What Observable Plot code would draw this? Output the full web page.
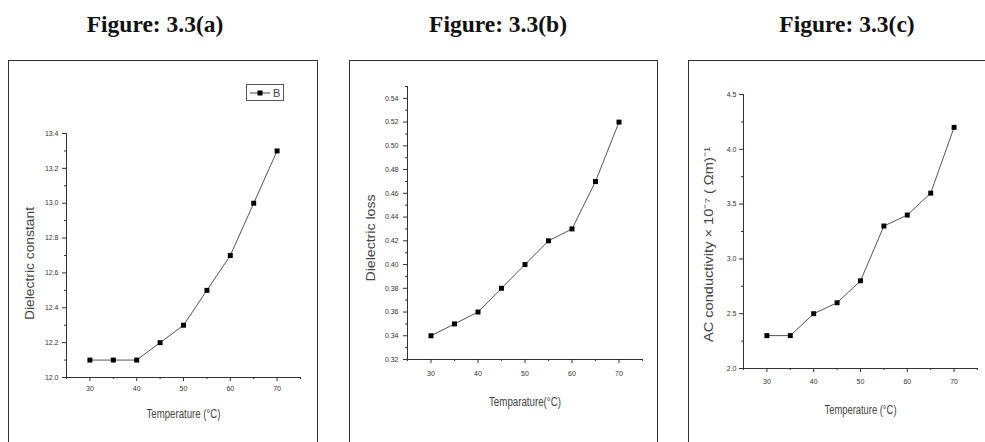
<!DOCTYPE html>
<html>
<head>
<meta charset="utf-8">
<script src="https://cdn.jsdelivr.net/npm/d3@7"></script>
<script src="https://cdn.jsdelivr.net/npm/@observablehq/plot@0.6"></script>
<style>
  html, body { margin: 0; padding: 0; background: #fff; overflow: hidden; }
  #root { position: relative; width: 985px; height: 442px; }
  .title { position: absolute; top: 12px; width: 240px; text-align: center;
           font-family: "Liberation Serif", "Times New Roman", serif; font-weight: bold;
           font-size: 23.5px; line-height: 24px; color: #111; }
  .box { position: absolute; top: 60px; height: 400px; border: 1px solid #333; box-sizing: border-box; }
  .panel { position: absolute; top: 60px; }
  .panel svg { overflow: visible; }
  .legend { position: absolute; left: 246px; top: 84px; width: 38px; height: 17px; box-sizing: border-box;
            border: 1px solid #555; background: #fff; font-family: "Liberation Sans", sans-serif;
            font-size: 11px; color: #444; display: flex; align-items: center; padding-left: 3px; }
</style>
</head>
<body>
<div id="root"></div>
<script>
// ---- data ----
const temperature = [30, 35, 40, 45, 50, 55, 60, 65, 70];
const dielectricConstant = [12.1, 12.1, 12.1, 12.2, 12.3, 12.5, 12.7, 13.0, 13.3];
const dielectricLoss = [0.34, 0.35, 0.36, 0.38, 0.40, 0.42, 0.43, 0.47, 0.52];
const acConductivity = [2.3, 2.3, 2.5, 2.6, 2.8, 3.3, 3.4, 3.6, 4.2];

const xDomain = [25, 75];
const xTicks = [30, 40, 50, 60, 70];
const xMinorTicks = [25, 35, 45, 55, 65, 75];

const yDomainA = [12.0, 13.4];
const yTicksA = [12.0, 12.2, 12.4, 12.6, 12.8, 13.0, 13.2, 13.4];
const yMinorA = [12.1, 12.3, 12.5, 12.7, 12.9, 13.1, 13.3];

const yDomainB = [0.32, 0.55];
const yTicksB = [0.32, 0.34, 0.36, 0.38, 0.40, 0.42, 0.44, 0.46, 0.48, 0.50, 0.52, 0.54];
const yMinorB = [0.33, 0.35, 0.37, 0.39, 0.41, 0.43, 0.45, 0.47, 0.49, 0.51, 0.53, 0.55];

const yDomainC = [2.0, 4.5];
const yTicksC = [2.0, 2.5, 3.0, 3.5, 4.0, 4.5];
const yMinorC = [2.25, 2.75, 3.25, 3.75, 4.25];

const titles = ["Figure: 3.3(a)", "Figure: 3.3(b)", "Figure: 3.3(c)"];
const yLabels = ["Dielectric constant", "Dielectric loss", "AC conductivity \u00d7 10\u207b\u2077 ( \u03a9m)\u207b\u00b9"];
const xLabels = ["Temperature (\u00b0C)", "Temparature(\u00b0C)", "Temperature (\u00b0C)"];
const legendLabel = "B";

// ---- layout ----
const root = document.getElementById("root");
const sans = "'Liberation Sans', Arial, sans-serif";

[[155, 0], [498, 1], [847, 2]].forEach(([cx, i]) => {
  const d = document.createElement("div");
  d.className = "title";
  d.style.left = (cx - 120) + "px";
  d.textContent = titles[i];
  root.appendChild(d);
});

[[8, 310], [349, 309], [688, 320]].forEach(([l, w]) => {
  const b = document.createElement("div");
  b.className = "box";
  b.style.left = l + "px";
  b.style.width = w + "px";
  root.appendChild(b);
});

function panel(cfg) {
  const data = temperature.map((t, i) => ({t, v: cfg.values[i]}));
  const chart = Plot.plot({
    width: cfg.width, height: cfg.height,
    marginLeft: cfg.ml, marginRight: cfg.mr, marginTop: cfg.mt, marginBottom: cfg.mb,
    x: {domain: xDomain, axis: null},
    y: {domain: cfg.yDomain, axis: null},
    style: {fontFamily: sans, fontSize: "7px", color: "#333", background: "transparent"},
    marks: [
      Plot.ruleX([xDomain[0]], {stroke: "#333", strokeWidth: 1}),
      Plot.ruleY([cfg.yDomain[0]], {stroke: "#333", strokeWidth: 1}),
      Plot.axisX(xTicks, {tickSize: 4, tickPadding: cfg.xpad, tickFormat: d => String(d), label: null, stroke: "#333", fill: "#333"}),
      Plot.axisX(xMinorTicks, {tickSize: 2, tickFormat: () => "", label: null, stroke: "#333"}),
      Plot.axisY(cfg.yTicks, {tickSize: 4, tickPadding: cfg.ypad, tickFormat: cfg.fmt, label: null, stroke: "#333", fill: "#333"}),
      Plot.axisY(cfg.yMinor, {tickSize: 2, tickFormat: () => "", label: null, stroke: "#333"}),
      Plot.line(data, {x: "t", y: "v", stroke: "#555", strokeWidth: 1}),
      Plot.dot(data, {x: "t", y: "v", symbol: "square", fill: "#000", stroke: "none", r: 2.8}),
      Plot.text([cfg.yLabel], {frameAnchor: "left", textAnchor: "middle", lineAnchor: "middle",
        rotate: -90, dx: cfg.ydx, dy: cfg.ydy,
        fontFamily: sans, fontSize: 13.5, fill: "#444", text: d => d}),
      Plot.text([cfg.xLabel], {frameAnchor: "bottom", textAnchor: "middle", lineAnchor: "middle", dy: cfg.xdy,
        fontFamily: sans, fontSize: 12, fill: "#444", text: d => d})
    ]
  });
  const fit = (label, len) => d3.select(chart).selectAll("text")
    .filter(function () { return this.textContent === label; })
    .attr("textLength", len).attr("lengthAdjust", "spacingAndGlyphs");
  fit(cfg.yLabel, cfg.yLen);
  fit(cfg.xLabel, cfg.xLen);
  const wrap = document.createElement("div");
  wrap.className = "panel";
  wrap.style.left = cfg.left + "px";
  wrap.appendChild(chart);
  root.appendChild(wrap);
}

panel({left: 8, width: 309, height: 382, ml: 58, mr: 17, mt: 73, mb: 65,
  yDomain: yDomainA, yTicks: yTicksA, yMinor: yMinorA, fmt: d3.format(".1f"),
  values: dielectricConstant, yLabel: yLabels[0], xLabel: xLabels[0],
  xpad: 5, ypad: 4, ydx: -37, ydy: 8, xdy: 37, yLen: 113, xLen: 74});

panel({left: 349, width: 308, height: 382, ml: 58, mr: 15, mt: 26, mb: 83,
  yDomain: yDomainB, yTicks: yTicksB, yMinor: yMinorB, fmt: d3.format(".2f"),
  values: dielectricLoss, yLabel: yLabels[1], xLabel: xLabels[1],
  xpad: 8, ypad: 5, ydx: -37, ydy: 15, xdy: 43, yLen: 87, xLen: 72});

panel({left: 688, width: 297, height: 382, ml: 55, mr: 8, mt: 34, mb: 74,
  yDomain: yDomainC, yTicks: yTicksC, yMinor: yMinorC, fmt: d3.format(".1f"),
  values: acConductivity, yLabel: yLabels[2], xLabel: xLabels[2],
  xpad: 7, ypad: 3, ydx: -35, ydy: 13, xdy: 42, yLen: 195, xLen: 72});

// legend of panel (a)
const lg = document.createElement("div");
lg.className = "legend";
lg.innerHTML = '<svg width="20" height="8" style="margin-right:3px"><line x1="0" y1="4" x2="20" y2="4" stroke="#444" stroke-width="1"/><rect x="7.5" y="1.5" width="5" height="5" fill="#000"/></svg>';
const lt = document.createElement("span");
lt.textContent = legendLabel;
lg.appendChild(lt);
root.appendChild(lg);
</script>
</body>
</html>
